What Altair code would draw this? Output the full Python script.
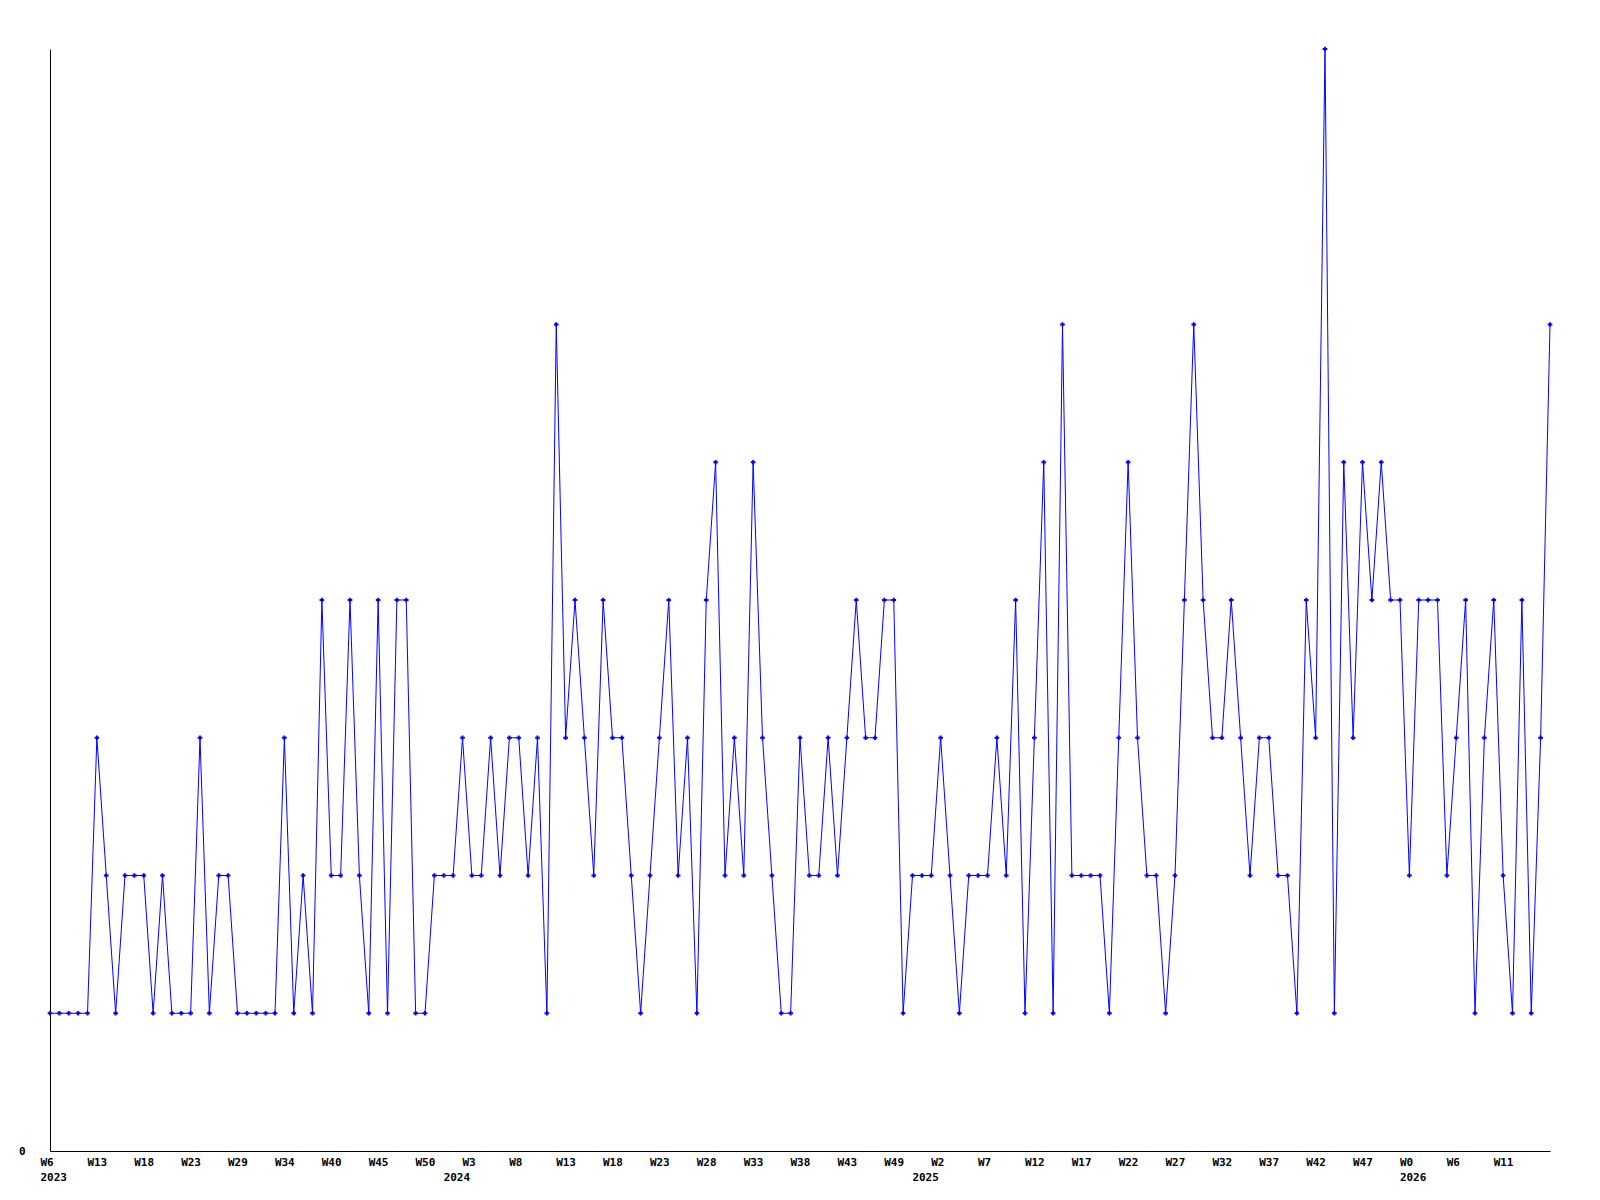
import altair as alt
import pandas as pd

# Weekly counts, 2023 W6 .. 2026 (161 weeks)
values = [
    1, 1, 1, 1, 1, 3, 2, 1, 2, 2,
    2, 1, 2, 1, 1, 1, 3, 1, 2, 2,
    1, 1, 1, 1, 1, 3, 1, 2, 1, 4,
    2, 2, 4, 2, 1, 4, 1, 4, 4, 1,
    1, 2, 2, 2, 3, 2, 2, 3, 2, 3,
    3, 2, 3, 1, 6, 3, 4, 3, 2, 4,
    3, 3, 2, 1, 2, 3, 4, 2, 3, 1,
    4, 5, 2, 3, 2, 5, 3, 2, 1, 1,
    3, 2, 2, 3, 2, 3, 4, 3, 3, 4,
    4, 1, 2, 2, 2, 3, 2, 1, 2, 2,
    2, 3, 2, 4, 1, 3, 5, 1, 6, 2,
    2, 2, 2, 1, 3, 5, 3, 2, 2, 1,
    2, 4, 6, 4, 3, 3, 4, 3, 2, 3,
    3, 2, 2, 1, 4, 3, 8, 1, 5, 3,
    5, 4, 5, 4, 4, 2, 4, 4, 4, 2,
    3, 4, 1, 3, 4, 2, 1, 4, 1, 3,
    6,
]

# Week tick labels (every 5th week)
tick_weeks = ["W6", "W13", "W18", "W23", "W29", "W34", "W40", "W45", "W50",
              "W3", "W8", "W13", "W18", "W23", "W28", "W33", "W38", "W43", "W49",
              "W2", "W7", "W12", "W17", "W22", "W27", "W32", "W37", "W42", "W47",
              "W0", "W6", "W11"]
tick_step = 5
# Year labels (second line) and the week index where each year starts
years = ["2023", "2024", "2025", "2026"]
year_index = [0, 43, 93, 145]

df = pd.DataFrame({"idx": list(range(len(values))), "count": values})

labels = {}
for i, w in enumerate(tick_weeks):
    labels[i * tick_step] = [w]
for yi, yr in zip(year_index, years):
    first = labels.get(yi, [""])[0]
    labels[yi] = [first, yr]

lookup = []
for v in range(len(values)):
    lines = labels.get(v, [""])
    lookup.append("[" + ",".join("'%s'" % s for s in lines) + "]")
label_expr = "[" + ",".join(lookup) + "][round(datum.value)]"
tick_values = sorted(labels.keys())

font = "DejaVu Sans Mono"

x = alt.X(
    "idx:Q",
    scale=alt.Scale(domain=[0, len(values) - 1], nice=False, zero=False),
    axis=alt.Axis(
        title="",
        values=tick_values,
        labelExpr=label_expr,
        ticks=False,
        grid=False,
        domainColor="black",
        domainWidth=1,
        labelAlign="left",
        labelBaseline="top",
        labelOffset=-10,
        labelPadding=5,
        labelLineHeight=15,
        labelFont=font,
        labelFontWeight="bold",
        labelFontSize=11,
        labelColor="black",
        labelOverlap=False,
        labelFlush=False,
    ),
)
y = alt.Y(
    "count:Q",
    scale=alt.Scale(domain=[0, 8], nice=False),
    axis=alt.Axis(
        title="",
        values=[0],
        ticks=False,
        grid=False,
        domainColor="black",
        domainWidth=1,
        labelPadding=25,
        labelBaseline="middle",
        labelFont=font,
        labelFontWeight="bold",
        labelFontSize=11,
        labelColor="black",
    ),
)

line = alt.Chart(df).mark_line(color="#0000ff", strokeWidth=1).encode(x=x, y=y)
pts = alt.Chart(df).mark_point(
    shape="cross", filled=True, color="#0000ff", size=22, opacity=1
).encode(x=x, y=y)

chart = (
    alt.layer(line, pts)
    .properties(
        width=1500,
        height=1102,
        autosize=alt.AutoSizeParams(type="none"),
        padding={"left": 42, "top": 41, "right": 30, "bottom": 60},
        background="white",
    )
    .configure_view(strokeWidth=0)
)

chart.save("out.html", embed_options={"renderer": "svg", "actions": False})
